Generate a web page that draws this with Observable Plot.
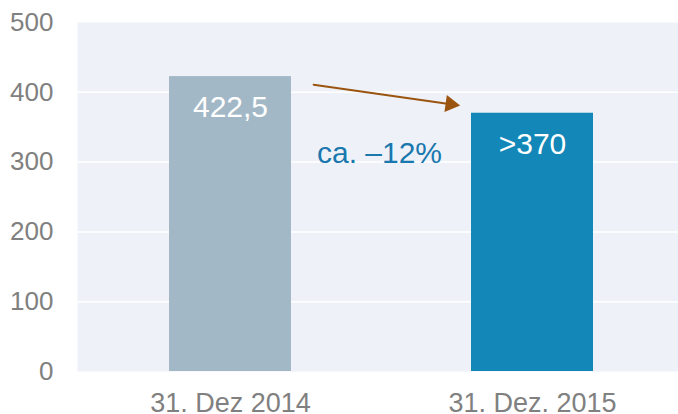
<!DOCTYPE html>
<html>
<head>
<meta charset="utf-8">
<script src="https://cdn.jsdelivr.net/npm/d3@7"></script>
<script src="https://cdn.jsdelivr.net/npm/@observablehq/plot@0.6"></script>
<style>
  html, body { margin: 0; padding: 0; background: #ffffff; }
  #chart { width: 678px; height: 414px; }
  svg { font-family: "Liberation Sans", Arial, sans-serif; }
</style>
</head>
<body>
<div id="chart"></div>
<script>
const categories = ["31. Dez 2014", "31. Dez. 2015"];
const values = [422.5, 370];
const valueLabels = ["422,5", ">370"];
const barColors = ["#a3b8c6", "#1287b8"];
const yTicks = [0, 100, 200, 300, 400, 500];
const changeLabel = "ca. –12%";
// arrow annotation (data-space endpoints at band centres)
const arrowFrom = { x: categories[0], y: 428 };
const arrowTo = { x: categories[1], y: 366 };

const bars = categories.map((c, i) => ({ cat: c, value: values[i], label: valueLabels[i], color: barColors[i] }));

const chart = Plot.plot({
  width: 678,
  height: 414,
  marginLeft: 77,
  marginRight: 0,
  marginTop: 22,
  marginBottom: 43,
  style: { fontFamily: '"Liberation Sans", Arial, sans-serif', background: "#ffffff", overflow: "visible" },
  x: { domain: categories, paddingInner: 0.5974, paddingOuter: 0.2905, align: 0.517, label: null },
  y: { domain: [0, 500], label: null },
  marks: [
    Plot.frame({ fill: "#eef2f8", stroke: null }),
    Plot.ruleY(yTicks.slice(1, -1), { stroke: "#ffffff", strokeWidth: 1.5 }),
    Plot.barY(bars, { x: "cat", y: "value", fill: "color" }),
    Plot.text(bars, { x: "cat", y: "value", text: "label", fill: "#ffffff", fontSize: 30, dy: 31 }),
    Plot.arrow([{ x1: arrowFrom.x, y1: arrowFrom.y, x2: arrowTo.x, y2: arrowTo.y }], {
      x1: "x1", y1: "y1", x2: "x2", y2: "y2",
      stroke: "#9a5410", strokeWidth: 2, headLength: 0,
      insetStart: 84, insetEnd: 86
    }),
    Plot.dot([{ x: arrowTo.x, y: 383 }], {
      x: "x", y: "y", dx: -82, symbol: "triangle", r: 6.3, rotate: 98,
      fill: "#9a5410", stroke: null
    }),
    Plot.text([changeLabel], { x: () => categories[0], y: () => 312, text: d => d, dx: 149, fill: "#1a78ae", fontSize: 30 }),
    Plot.axisY(yTicks, { tickSize: 0, tickPadding: 24, fontSize: 26, color: "#808080", label: null }),
    Plot.axisX({ tickSize: 0, tickPadding: 21, fontSize: 27, color: "#808080", label: null })
  ]
});
document.getElementById("chart").appendChild(chart);
</script>
</body>
</html>
